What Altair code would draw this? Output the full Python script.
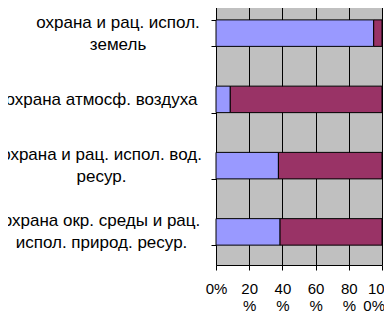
import altair as alt
import pandas as pd

categories = [
    "охрана и рац. испол.\nземель",
    "охрана атмосф. воздуха",
    "охрана и рац. испол. вод.\nресур.",
    "охрана окр. среды и рац.\nиспол. природ. ресур.",
]
series_names = ["Ряд1", "Ряд2"]
blue_values = [95.0, 8.6, 37.6, 38.6]
maroon_values = [5.0, 91.4, 62.4, 61.4]
x_tick_values = [0, 20, 40, 60, 80, 100]
x_tick_labels = [["0%"], ["20", "%"], ["40", "%"], ["60", "%"], ["80", "%"], ["10", "0%"]]

rows = []
for i, c in enumerate(categories):
    rows.append({"cat": c, "series": series_names[0], "val": blue_values[i], "ord": 0})
    rows.append({"cat": c, "series": series_names[1], "val": maroon_values[i], "ord": 1})
df = pd.DataFrame(rows)

NB = "\u00a0"
ZW = "\u200b"


def lab(lines):
    return "[" + ",".join("'" + s + "'" for s in lines) + "]"


# x labels (last one nudged left like the original)
x_expr = ""
for v, l in zip(x_tick_values, x_tick_labels):
    if v == 100:
        l = [l[0] + NB * 3 + ZW, l[1] + NB * 4 + ZW]
    x_expr += f"datum.value == {v} ? {lab(l)} : "
x_expr += "''"

# y labels: half line height trick so multi-line labels are centred on the band
y_expr = ""
for c in categories:
    parts = c.split("\n")
    if "земель" in c:
        parts = [ZW + NB * 7 + p for p in parts]
    lines = [parts[0], ZW, parts[1]] if len(parts) == 2 else [ZW, parts[0]]
    key = c.replace("\n", "\\n")
    y_expr += f"datum.value == '{key}' ? {lab(lines)} : "
y_expr += "''"

chart = alt.Chart(df).mark_bar(stroke="black", strokeWidth=1).encode(
    y=alt.Y(
        "cat:N",
        sort=categories,
        scale=alt.Scale(paddingInner=0.6, paddingOuter=0.3),
        axis=alt.Axis(
            title=None,
            labelExpr=y_expr,
            labelAlign="center",
            labelBaseline="middle",
            labelLineHeight=11,
            labelOffset=-11,
            labelPadding=110,
            labelFontSize=17,
            labelLimit=400,
            tickBand="extent",
            tickSize=5,
            tickColor="black",
            domainColor="black",
            grid=False,
            labelColor="black",
        ),
    ),
    x=alt.X(
        "val:Q",
        stack="zero",
        scale=alt.Scale(domain=[0, 100], nice=False),
        axis=alt.Axis(
            title=None,
            values=x_tick_values,
            labelExpr=x_expr,
            labelLineHeight=17,
            labelPadding=11,
            labelBaseline="top",
            labelFontSize=15,
            tickSize=5,
            tickColor="black",
            domainColor="black",
            grid=True,
            gridColor="black",
            gridOpacity=1,
            labelColor="black",
            labelFlush=False,
        ),
    ),
    color=alt.Color("series:N", scale=alt.Scale(domain=series_names, range=["#9999FF", "#993366"]), legend=None),
    order=alt.Order("ord:Q"),
).properties(
    width=166,
    height=265,
    autosize=alt.AutoSizeParams(type="none"),
    padding={"left": 208, "top": -8, "right": 2, "bottom": 47},
).configure_view(
    fill="#C0C0C0", stroke=None
).configure_axis(
    labelFont="Liberation Sans"
)

chart.save("out.html", embed_options={"renderer": "svg", "actions": False})
